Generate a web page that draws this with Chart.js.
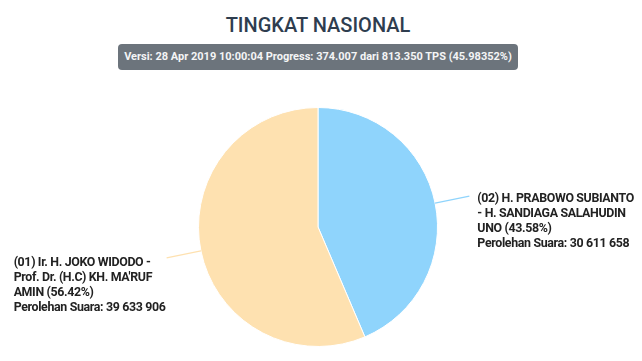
<!DOCTYPE html>
<html>
<head>
<meta charset="utf-8">
<script src="https://cdn.jsdelivr.net/npm/chart.js@4/dist/chart.umd.min.js"></script>
<style>
  html,body{margin:0;padding:0;background:#fff;width:642px;height:361px;overflow:hidden;font-family:Roboto,"Noto Sans",sans-serif;}
  #title{position:absolute;left:0;width:636px;top:12px;text-align:center;font-size:20px;font-weight:500;color:#2e3d4f;line-height:26px;}
  #badge{position:absolute;left:118px;top:44px;width:400px;height:26px;background:#6c747c;border-radius:4px;color:#f4f5f6;font-weight:bold;font-size:11px;line-height:26px;text-align:center;white-space:nowrap;}
  #wrap{position:absolute;left:0;top:0;width:642px;height:361px;}
</style>
</head>
<body>
<div id="title">TINGKAT NASIONAL</div>
<div id="badge">Versi: 28 Apr 2019 10:00:04 Progress: 374.007 dari 813.350 TPS (45.98352%)</div>
<div id="wrap"><canvas id="c" width="642" height="361"></canvas></div>
<script>
// ---- data ----
const categories = [
  "(02) H. PRABOWO SUBIANTO - H. SANDIAGA SALAHUDIN UNO",
  "(01) Ir. H. JOKO WIDODO - Prof. Dr. (H.C) KH. MA'RUF AMIN"
];
const percentages = [43.58, 56.42];
const votes = [30611658, 39633906];
const labelLines = [
  ["(02) H. PRABOWO SUBIANTO", "- H. SANDIAGA SALAHUDIN", "UNO (43.58%)", "Perolehan Suara: 30 611 658"],
  ["(01) Ir. H. JOKO WIDODO -", "Prof. Dr. (H.C) KH. MA'RUF", "AMIN (56.42%)", "Perolehan Suara: 39 633 906"]
];
const sliceColors = ["#8fd4fc", "#fee1b0"];

const leaderPlugin = {
  id: 'leaders',
  afterDatasetsDraw(chart) {
    const ctx = chart.ctx;
    const meta = chart.getDatasetMeta(0);
    meta.data.forEach((arc, i) => {
      const mid = (arc.startAngle + arc.endAngle) / 2;
      const r = arc.outerRadius;
      const x1 = arc.x + Math.cos(mid) * r;
      const y1 = arc.y + Math.sin(mid) * r;
      const x2 = arc.x + Math.cos(mid) * (r + 35);
      const y2 = arc.y + Math.sin(mid) * (r + 35);
      ctx.save();
      ctx.strokeStyle = sliceColors[i];
      ctx.lineWidth = 1.2;
      ctx.beginPath();
      ctx.moveTo(x1, y1);
      ctx.lineTo(x2, y2);
      ctx.stroke();
      ctx.font = 'bold 12.4px Roboto, "Noto Sans", sans-serif';
      if ('letterSpacing' in ctx) ctx.letterSpacing = '-0.35px';
      ctx.fillStyle = '#222';
      ctx.textBaseline = 'middle';
      ctx.textAlign = 'left';
      const lines = labelLines[i];
      const lh = 15;
      let tx, ty;
      if (Math.cos(mid) >= 0) {
        tx = x2 + 8;
        ty = y2 + 3;
      } else {
        tx = x2 - 153;
        ty = y2 + 5;
      }
      lines.forEach((t, k) => ctx.fillText(t, tx, ty + k * lh));
      ctx.restore();
    });
  }
};

new Chart(document.getElementById('c'), {
  type: 'pie',
  data: {
    labels: categories,
    datasets: [{
      data: percentages,
      backgroundColor: sliceColors,
      borderColor: '#ffffff',
      borderWidth: 1
    }]
  },
  options: {
    responsive: false,
    animation: false,
    layout: { padding: { left: 198, right: 204, top: 107, bottom: 14 } },
    plugins: { legend: { display: false }, tooltip: { enabled: false } }
  },
  plugins: [leaderPlugin]
});
</script>
</body>
</html>
